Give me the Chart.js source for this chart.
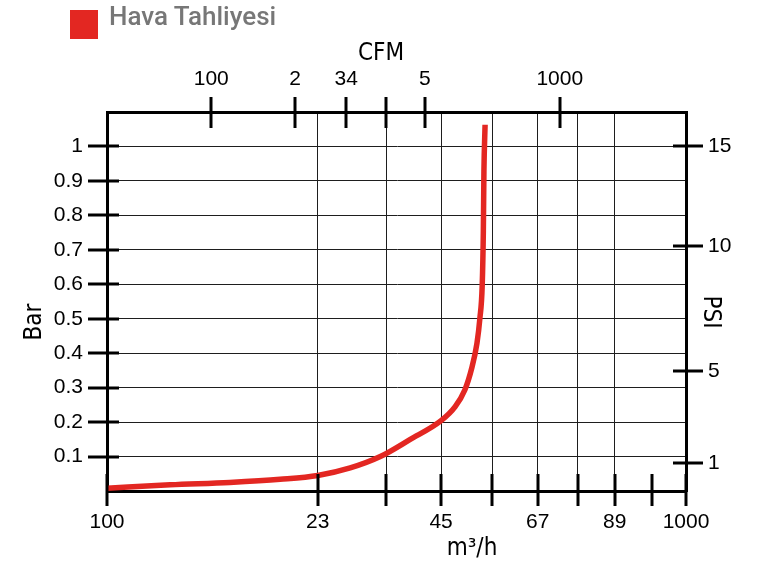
<!DOCTYPE html>
<html>
<head>
<meta charset="utf-8">
<script src="https://cdn.jsdelivr.net/npm/chart.js@4.4.1/dist/chart.umd.min.js"></script>
<style>
html,body{margin:0;padding:0;background:#fff;}
#wrap{position:relative;width:757px;height:561px;overflow:hidden;}
#c{position:absolute;left:0;top:0;}
#sw{position:absolute;left:70px;top:10px;width:28px;height:29px;background:#e32722;}
#lt{position:absolute;left:109px;top:1px;font:500 26px/30px Roboto,'DejaVu Sans',sans-serif;color:#777;white-space:nowrap;}
</style>
</head>
<body>
<div id="wrap">
<canvas id="c" width="757" height="561"></canvas>
<div id="sw"></div><div id="lt"></div>
</div>
<script>
// ---- data ----
const seriesName = 'Hava Tahliyesi';
// x position along the flow axis (0 = left edge "100", 100 = right edge "1000")
const flowPos     = [0, 10.9, 21.2, 29.9, 36.4, 42.0, 47.2, 52.3, 57.7, 60.1, 61.8, 63.0, 63.9, 64.4, 64.8, 65.0, 65.1, 65.3];
const pressureBar = [0.008, 0.018, 0.025, 0.034, 0.045, 0.067, 0.100, 0.149, 0.204, 0.244, 0.293, 0.357, 0.429, 0.501, 0.596, 0.755, 0.928, 1.063];

const m3hTickPos    = [0, 36.4, 48.2, 57.7, 66.5, 74.4, 81.3, 87.7, 94.1, 100];
const m3hTickLabels = ['100', '23', '', '45', '', '67', '', '89', '', '1000'];
const m3hGridShown  = [false, true, true, true, true, true, true, true, false, false];

const cfmTickPos    = [18.0, 32.5, 41.3, 48.2, 54.9, 78.2];
const cfmTickLabels = ['100', '2', '34', '', '5', '1000'];

const barTickPos    = [0.1, 0.2, 0.3, 0.4, 0.5, 0.6, 0.7, 0.8, 0.9, 1.0];
const barTickLabels = ['0.1', '0.2', '0.3', '0.4', '0.5', '0.6', '0.7', '0.8', '0.9', '1'];

const psiTickPos    = [0.080, 0.348, 0.711, 1.0];   // expressed in bar
const psiTickLabels = ['1', '5', '10', '15'];

const titleTop = 'CFM', titleBottom = 'm³/h', titleLeft = 'Bar', titleRight = 'PSI';

// ---- chart ----
document.getElementById('lt').textContent = seriesName;

const tickFont = {family: "'Liberation Sans', Arial, sans-serif", size: 21};
const titleFont = "24px 'Liberation Sans Narrow', 'DejaVu Sans Condensed', sans-serif";
const gridCol = '#1e1e1e';

function fixedTicks(pos) {
  return s => { s.ticks = pos.map(v => ({value: v})); };
}

const tickMarks = {
  id: 'tickMarks',
  afterDatasetsDraw(chart) {
    const {ctx, chartArea: a, scales} = chart;
    ctx.save();
    ctx.strokeStyle = '#000';
    ctx.lineWidth = 3;
    const seg = (x1, y1, x2, y2) => { ctx.beginPath(); ctx.moveTo(x1, y1); ctx.lineTo(x2, y2); ctx.stroke(); };
    scales.y.ticks.forEach(t => { const p = Math.round(scales.y.getPixelForValue(t.value)); seg(a.left - 19, p, a.left + 12, p); });
    scales.y2.ticks.forEach(t => { const p = Math.round(scales.y2.getPixelForValue(t.value)); seg(a.right - 13, p, a.right + 17, p); });
    scales.x.ticks.forEach(t => { const p = Math.round(scales.x.getPixelForValue(t.value)); seg(p, a.bottom - 17, p, a.bottom + 15); });
    scales.x2.ticks.forEach(t => { const p = Math.round(scales.x2.getPixelForValue(t.value)); seg(p, a.top - 15, p, a.top + 16); });
    ctx.restore();
  }
};

const axisTitles = {
  id: 'axisTitles',
  afterDraw(chart) {
    const {ctx} = chart;
    ctx.save();
    ctx.fillStyle = '#000';
    ctx.font = titleFont;
    ctx.textAlign = 'center';
    ctx.textBaseline = 'alphabetic';
    ctx.fillText(titleTop, 381, 60);
    ctx.fillText(titleBottom, 472, 555);
    ctx.save(); ctx.translate(41, 322); ctx.rotate(-Math.PI / 2); ctx.fillText(titleLeft, 0, 0); ctx.restore();
    ctx.save(); ctx.translate(704, 312); ctx.rotate(Math.PI / 2); ctx.fillText(titleRight, 0, 0); ctx.restore();
    ctx.restore();
  }
};

new Chart(document.getElementById('c'), {
  type: 'line',
  data: {
    datasets: [{
      label: seriesName,
      data: flowPos.map((x, i) => ({x, y: pressureBar[i]})),
      borderColor: '#e32722',
      backgroundColor: '#e32722',
      borderWidth: 5.5,
      borderCapStyle: 'butt',
      borderJoinStyle: 'round',
      pointRadius: 0,
      cubicInterpolationMode: 'monotone',
      fill: false,
      clip: 8
    }]
  },
  options: {
    responsive: false,
    animation: false,
    events: [],
    layout: {padding: 0},
    plugins: {legend: {display: false}, tooltip: {enabled: false}},
    scales: {
      x: {
        type: 'linear', position: 'bottom', min: 0, max: 100,
        afterBuildTicks: fixedTicks(m3hTickPos),
        afterFit: s => { s.height = 70; },
        ticks: {autoSkip: false, maxRotation: 0, padding: 19, color: '#000', font: tickFont,
                callback: (v, i) => m3hTickLabels[i]},
        grid: {drawTicks: false, lineWidth: 1, color: c => m3hGridShown[c.index] ? gridCol : 'rgba(0,0,0,0)'},
        border: {display: true, color: '#000', width: 3}
      },
      x2: {
        type: 'linear', position: 'top', min: 0, max: 100,
        afterBuildTicks: fixedTicks(cfmTickPos),
        afterFit: s => { s.height = 112; },
        ticks: {autoSkip: false, maxRotation: 0, padding: 20, color: '#000', font: tickFont,
                callback: (v, i) => cfmTickLabels[i]},
        grid: {drawTicks: false, drawOnChartArea: false},
        border: {display: true, color: '#000', width: 3}
      },
      y: {
        type: 'linear', position: 'left', min: 0, max: 1.1,
        afterBuildTicks: fixedTicks(barTickPos),
        afterFit: s => { s.width = 107; },
        ticks: {autoSkip: false, padding: 24, color: '#000', font: tickFont,
                callback: (v, i) => barTickLabels[i]},
        grid: {drawTicks: false, lineWidth: 1, color: gridCol},
        border: {display: true, color: '#000', width: 3}
      },
      y2: {
        type: 'linear', position: 'right', min: 0, max: 1.1,
        afterBuildTicks: fixedTicks(psiTickPos),
        afterFit: s => { s.width = 71; },
        ticks: {autoSkip: false, padding: 22, color: '#000', font: tickFont,
                callback: (v, i) => psiTickLabels[i]},
        grid: {drawTicks: false, drawOnChartArea: false},
        border: {display: true, color: '#000', width: 3}
      }
    }
  },
  plugins: [tickMarks, axisTitles]
});
</script>
</body>
</html>
